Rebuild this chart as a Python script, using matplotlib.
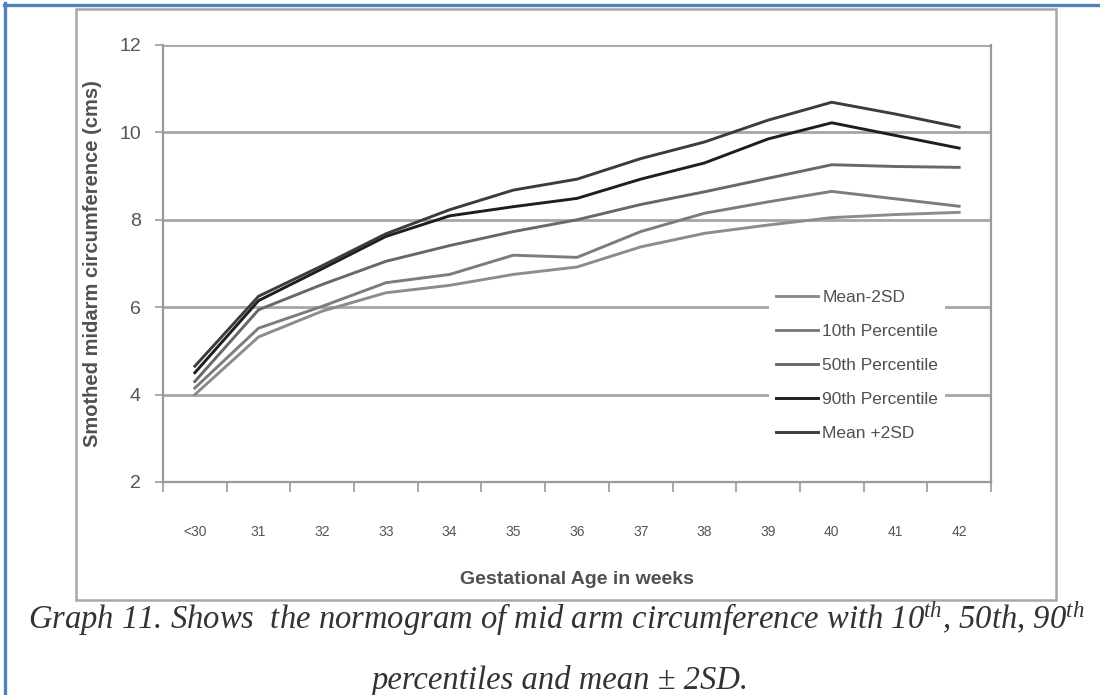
import matplotlib
matplotlib.use("Agg")
import matplotlib.pyplot as plt
from matplotlib.patches import Rectangle
from matplotlib.lines import Line2D

# ---- data ----
categories = ["<30", "31", "32", "33", "34", "35", "36", "37", "38", "39", "40", "41", "42"]
mean_minus_2sd = [4.0, 5.32, 5.91, 6.33, 6.5, 6.75, 6.92, 7.38, 7.69, 7.88, 8.05, 8.12, 8.17]
p10 = [4.15, 5.52, 6.02, 6.56, 6.75, 7.19, 7.14, 7.73, 8.15, 8.41, 8.65, 8.48, 8.31]
p50 = [4.3, 5.94, 6.52, 7.05, 7.41, 7.73, 8.0, 8.35, 8.64, 8.95, 9.26, 9.22, 9.2]
p90 = [4.5, 6.15, 6.88, 7.62, 8.09, 8.3, 8.49, 8.93, 9.3, 9.85, 10.22, 9.93, 9.64]
mean_plus_2sd = [4.65, 6.25, 6.95, 7.68, 8.23, 8.68, 8.93, 9.4, 9.78, 10.28, 10.69, 10.42, 10.12]
series_names = ["Mean-2SD", "10th Percentile", "50th Percentile", "90th Percentile", "Mean +2SD"]
y_ticks = [2, 4, 6, 8, 10, 12]

colors = ["#8c8c8c", "#7c7c7c", "#686868", "#1e1e1e", "#3c3c3c"]

plt.rcParams["mathtext.fontset"] = "custom"
plt.rcParams["mathtext.rm"] = "Liberation Serif:italic"
plt.rcParams["mathtext.it"] = "Liberation Serif:italic"

W, H = 1100, 695
fig = plt.figure(figsize=(11, 6.95), dpi=100)
fig.patch.set_facecolor("white")

def fx(px):
    return px / W

def fy(py):
    return 1 - py / H

# outer blue border (left and top)
fig.add_artist(Line2D([fx(5), fx(5)], [fy(3), fy(695)], color="#4f81bd", lw=2.4))
fig.add_artist(Line2D([fx(4), fx(1100)], [fy(4.5), fy(4.5)], color="#4f81bd", lw=2.4))
# inner gray chart frame
fig.add_artist(Rectangle((fx(76), fy(600)), fx(1056) - fx(76), fy(9) - fy(600),
                         fill=False, edgecolor="#a8a8a8", lw=1.8))

ax = fig.add_axes([fx(163), fy(482), fx(991) - fx(163), fy(45) - fy(482)])
x = list(range(len(categories)))
all_series = [mean_minus_2sd, p10, p50, p90, mean_plus_2sd]
for vals, name, c in zip(all_series, series_names, colors):
    ax.plot(x, vals, color=c, lw=2.1, label=name, solid_joinstyle="round", zorder=3)

ax.set_xlim(-0.5, len(categories) - 0.5)
ax.set_ylim(2, 12)
ax.set_yticks(y_ticks)
ax.set_yticklabels([str(t) for t in y_ticks])
ax.set_xticks(x)
ax.set_xticklabels(categories)
ax.set_xticks([i - 0.5 for i in range(len(categories) + 1)], minor=True)
ax.tick_params(axis="x", which="major", length=0, pad=31, labelsize=10, labelcolor="#555555")
ax.tick_params(axis="x", which="minor", length=7, width=1.2, color="#999999", direction="out")
ax.tick_params(axis="y", length=6, width=1.2, color="#999999", direction="out", pad=10,
               labelsize=14, labelcolor="#555555")
for lab in ax.get_yticklabels():
    lab.set_family("Liberation Sans")
for lab in ax.get_xticklabels():
    lab.set_family("Liberation Sans")

ax.grid(axis="y", color="#a6a6a6", lw=2.0, zorder=1)
ax.set_axisbelow(True)
for s in ["left", "bottom", "right"]:
    ax.spines[s].set_color("#9a9a9a")
    ax.spines[s].set_linewidth(1.6)
ax.spines["top"].set_visible(False)

ax.set_xlabel("Gestational Age in weeks", fontsize=14, fontweight="bold", color="#505050",
              family="Liberation Sans", labelpad=23)
ax.set_ylabel("Smothed midarm circumference (cms)", fontsize=14.5, fontweight="bold", color="#505050",
              family="Liberation Sans", labelpad=12)

leg = ax.legend(loc="upper left", bbox_to_anchor=(0.722, 0.475), frameon=True, facecolor="white",
                edgecolor="none", framealpha=1, handlelength=2.4, handletextpad=0.25,
                labelspacing=1.08, borderpad=0.4, prop={"family": "Liberation Sans", "size": 12.5})
for t in leg.get_texts():
    t.set_color("#505050")
leg.set_zorder(5)

# caption
cap1 = r"Graph 11. Shows  the normogram of mid arm circumference with $10^{th}$, 50th, $90^{th}$"
fig.text(fx(28), fy(619), cap1, fontsize=23.5, family="Liberation Serif", style="italic",
         color="#333333", ha="left", va="center")
fig.text(fx(560), fy(680), "percentiles and mean \u00b1 2SD.", fontsize=23.5, family="Liberation Serif",
         style="italic", color="#333333", ha="center", va="center")

fig.savefig("out.png", dpi=100, facecolor="white")
